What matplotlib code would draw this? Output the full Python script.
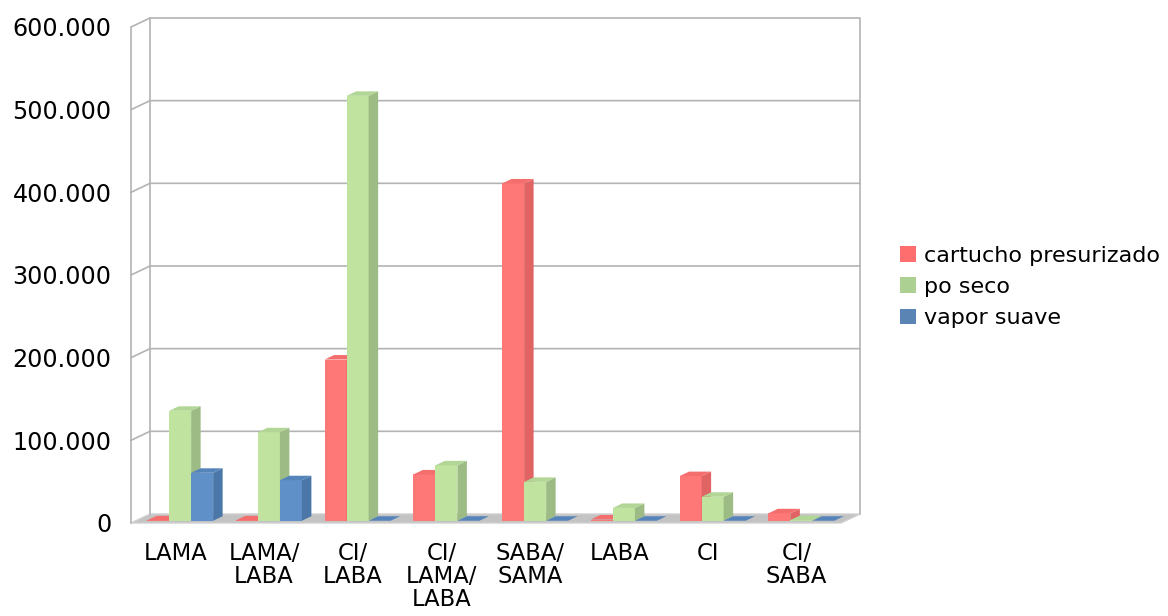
import matplotlib
matplotlib.use("Agg")
import matplotlib.pyplot as plt
from matplotlib.patches import Polygon, Patch
from matplotlib.ticker import FuncFormatter

categories = ["LAMA", "LAMA/\nLABA", "CI/\nLABA", "CI/\nLAMA/\nLABA", "SABA/\nSAMA", "LABA", "CI", "CI/\nSABA"]
series_names = ["cartucho presurizado", "po seco", "vapor suave"]
cartucho = [500, 500, 195000, 56000, 408000, 1500, 54000, 9000]
po_seco = [133000, 107000, 514000, 67000, 47000, 15500, 29000, 800]
vapor = [58000, 49000, 0, 0, 0, 0, 0, 0]
y_ticks = [0, 100000, 200000, 300000, 400000, 500000, 600000]

front_colors = ["#ff7878", "#c0e3a0", "#5f91c8"]
side_colors = ["#e06464", "#9dbb85", "#4a76a8"]
top_colors = ["#f46e6e", "#b2d696", "#5584ba"]
legend_colors = ["#ff6e6e", "#acd092", "#5a84b4"]

plt.rcParams["font.family"] = ["DejaVu Sans"]

fig = plt.figure(figsize=(11.68, 6.16), dpi=100)
ax = fig.add_axes([131 / 1168, 1 - 523 / 616, 710 / 1168, 496 / 616])
ax.set_xlim(-0.5, len(categories) - 0.5)
ax.set_ylim(0, 600000)

# depth of the 3d box in data units
DX = 0.214
DY = 10900
ymax = y_ticks[-1]
x0, x1 = -0.5, len(categories) - 0.5
wall = "#b3b3b3"

# floor
ax.add_patch(Polygon([(x0, 0), (x1, 0), (x1 + DX, DY), (x0 + DX, DY)],
                     closed=True, facecolor="#c3c3c3", edgecolor="#d0d0d0", lw=1, zorder=1, clip_on=False))
# walls outline
ax.plot([x0, x0, x0 + DX, x1 + DX, x1 + DX], [0, ymax, ymax + DY, ymax + DY, DY],
        color=wall, lw=1.2, zorder=1, clip_on=False)
ax.plot([x0 + DX, x0 + DX], [DY, ymax + DY], color=wall, lw=1.2, zorder=1, clip_on=False)
for v in y_ticks[1:-1]:
    ax.plot([x0, x0 + DX, x1 + DX], [v, v + DY, v + DY], color=wall, lw=1.2, zorder=1, clip_on=False)

# bars
W = 0.248
t0, t1 = 0.25, 0.75
ox, oy = t0 * DX, t0 * DY
ddx, ddy = (t1 - t0) * DX, (t1 - t0) * DY
all_series = [cartucho, po_seco, vapor]
for i in range(len(categories)):
    for j, values in enumerate(all_series):
        v = values[i]
        xl = i + ox - 1.5 * W + j * W
        xr = xl + W
        if v > 0:
            ax.add_patch(Polygon([(xl, oy), (xr, oy), (xr, oy + v), (xl, oy + v)],
                                 facecolor=front_colors[j], edgecolor="none", zorder=2, clip_on=False))
            ax.add_patch(Polygon([(xr, oy), (xr + ddx, oy + ddy), (xr + ddx, oy + v + ddy), (xr, oy + v)],
                                 facecolor=side_colors[j], edgecolor="none", zorder=2, clip_on=False))
        ax.add_patch(Polygon([(xl, oy + v), (xr, oy + v), (xr + ddx, oy + v + ddy), (xl + ddx, oy + v + ddy)],
                             facecolor=top_colors[j], edgecolor="none", zorder=2, clip_on=False))

for s in ax.spines.values():
    s.set_visible(False)
ax.set_facecolor("none")
ax.set_yticks(y_ticks)
ax.yaxis.set_major_formatter(FuncFormatter(lambda v, p: f"{int(v):,}".replace(",", ".")))
ax.set_xticks(range(len(categories)))
ax.set_xticklabels(categories, linespacing=0.98)
ax.tick_params(axis="y", length=0, pad=14, labelsize=17.2)
ax.tick_params(axis="x", length=0, pad=14, labelsize=16.3)
for lbl in ax.get_yticklabels():
    lbl.set_verticalalignment("center_baseline")

handles = [Patch(facecolor=c, edgecolor="none") for c in legend_colors]
fig.legend(handles, series_names, loc="center left", bbox_to_anchor=(880 / 1168, 1 - 287 / 616),
           frameon=False, fontsize=16, handlelength=0.7, handleheight=0.7, handletextpad=0.4,
           labelspacing=0.5)

fig.savefig("out.png", dpi=100)
